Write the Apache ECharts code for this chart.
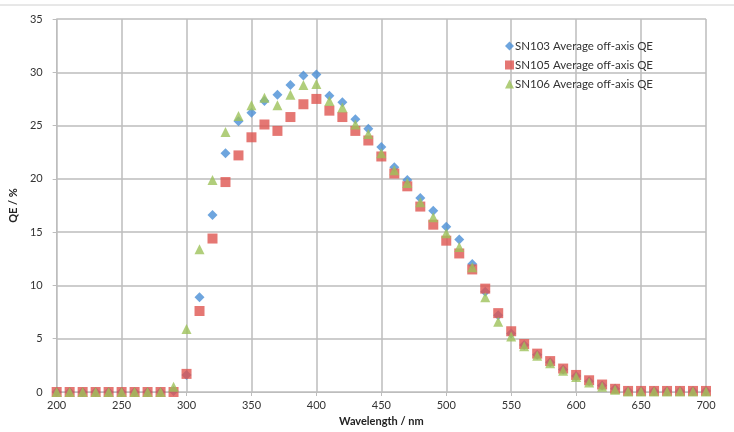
<!DOCTYPE html>
<html>
<head>
<meta charset="utf-8">
<script src="https://cdn.jsdelivr.net/npm/echarts@6/dist/echarts.min.js"></script>
<style>
  html, body { margin: 0; padding: 0; background: #fff; }
  #main { width: 734px; height: 432px; }
</style>
</head>
<body>
<div id="main"></div>
<script>
// wavelength in nm, 200..700 every 10
const wavelengths = [200, 210, 220, 230, 240, 250, 260, 270, 280, 290,
  300, 310, 320, 330, 340, 350, 360, 370, 380, 390,
  400, 410, 420, 430, 440, 450, 460, 470, 480, 490,
  500, 510, 520, 530, 540, 550, 560, 570, 580, 590,
  600, 610, 620, 630, 640, 650, 660, 670, 680, 690, 700]

const sn103 = [0, 0, 0, 0, 0, 0, 0, 0, 0, 0.1,
  1.6, 8.9, 16.6, 22.4, 25.4, 26.2, 27.3, 27.9, 28.8, 29.7,
  29.8, 27.8, 27.2, 25.6, 24.7, 23.0, 21.1, 19.9, 18.2, 17.0,
  15.5, 14.3, 12.0, 9.4, 7.2, 5.5, 4.4, 3.5, 2.8, 2.1,
  1.5, 1.0, 0.6, 0.3, 0.1, 0.1, 0.1, 0.1, 0.1, 0.1, 0.1]

const sn105 = [0, 0, 0, 0, 0, 0, 0, 0, 0, 0,
  1.7, 7.6, 14.4, 19.7, 22.2, 23.9, 25.1, 24.5, 25.8, 27.0,
  27.5, 26.4, 25.8, 24.5, 23.6, 22.1, 20.5, 19.3, 17.4, 15.7,
  14.2, 13.0, 11.5, 9.7, 7.4, 5.7, 4.5, 3.6, 2.9, 2.2,
  1.6, 1.1, 0.7, 0.3, 0.1, 0.1, 0.1, 0.1, 0.1, 0.1, 0.1]

const sn106 = [0, 0, 0, 0, 0, 0, 0, 0, 0, 0.5,
  5.9, 13.4, 19.9, 24.4, 25.9, 26.9, 27.6, 26.9, 27.9, 28.8,
  28.9, 27.3, 26.7, 25.1, 24.2, 22.4, 20.8, 19.6, 17.8, 16.4,
  14.9, 13.6, 11.7, 8.9, 6.6, 5.2, 4.3, 3.4, 2.7, 2.0,
  1.4, 0.9, 0.5, 0.2, 0.05, 0.05, 0.05, 0.05, 0.05, 0.05, 0.05]

const seriesNames = ['SN103 Average off-axis QE', 'SN105 Average off-axis QE', 'SN106 Average off-axis QE']

function pairs (ys) {
  return wavelengths.map((x, i) => [x, ys[i]])
}

const font = 'Lato, "Open Sans", sans-serif'
const gridColor = '#bdbdbd'

const myChart = echarts.init(document.getElementById('main'))

myChart.setOption({
  backgroundColor: '#fff',
  animation: false,
  textStyle: { fontFamily: font },
  graphic: [
    {
      type: 'line',
      shape: { x1: 0, y1: 5, x2: 734, y2: 5 },
      style: { stroke: '#d0d0d0', lineWidth: 1 }
    }
  ],
  grid: { left: 52, right: 28, top: 19, bottom: 40 },
  legend: {
    orient: 'vertical',
    left: 500,
    top: 35,
    itemWidth: 9,
    itemHeight: 9,
    itemGap: 7,
    textStyle: { fontSize: 11.5, color: '#333', fontFamily: font, padding: [0, 0, 0, -4] },
    data: [
      { name: seriesNames[0], icon: 'diamond' },
      { name: seriesNames[1], icon: 'rect' },
      { name: seriesNames[2], icon: 'triangle' }
    ]
  },
  xAxis: {
    type: 'value',
    min: 200,
    max: 700,
    interval: 50,
    name: 'Wavelength / nm',
    nameLocation: 'middle',
    nameGap: 23,
    nameTextStyle: { fontSize: 11, fontWeight: 'bold', color: '#222', fontFamily: font },
    axisLine: { lineStyle: { color: gridColor } },
    axisTick: { show: true, length: 4, lineStyle: { color: gridColor } },
    axisLabel: { fontSize: 11, color: '#333', margin: 8 },
    splitLine: { show: true, lineStyle: { color: gridColor, width: 1.5 } }
  },
  yAxis: {
    type: 'value',
    min: 0,
    max: 35,
    interval: 5,
    name: 'QE / %',
    nameLocation: 'middle',
    nameRotate: 90,
    nameGap: 34,
    nameTextStyle: { fontSize: 11, fontWeight: 'bold', color: '#222', fontFamily: font },
    axisLine: { show: true, lineStyle: { color: gridColor } },
    axisTick: { show: true, length: 4, lineStyle: { color: gridColor } },
    axisLabel: { fontSize: 11, color: '#333', margin: 14 },
    splitLine: { show: true, lineStyle: { color: gridColor, width: 1.5 } }
  },
  series: [
    {
      name: seriesNames[0],
      type: 'scatter',
      symbol: 'diamond',
      symbolSize: 10,
      itemStyle: { color: '#4a8fd6' },
      data: pairs(sn103)
    },
    {
      name: seriesNames[1],
      type: 'scatter',
      symbol: 'rect',
      symbolSize: 10,
      itemStyle: { color: '#de5550' },
      data: pairs(sn105)
    },
    {
      name: seriesNames[2],
      type: 'scatter',
      symbol: 'triangle',
      symbolSize: 10,
      itemStyle: { color: '#9dc25a' },
      data: pairs(sn106)
    }
  ]
})
</script>
</body>
</html>
